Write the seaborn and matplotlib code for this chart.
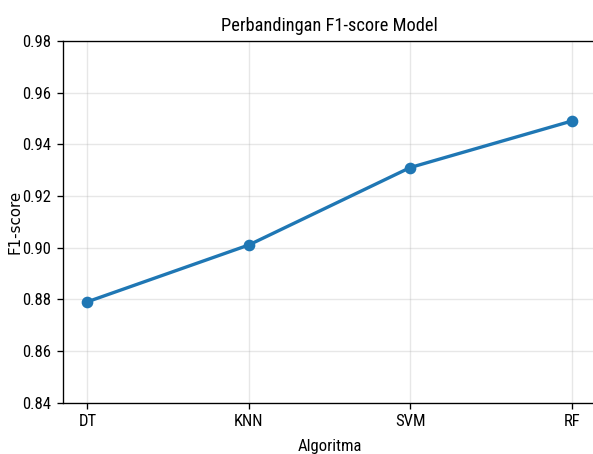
import matplotlib
matplotlib.use("Agg")
import matplotlib.pyplot as plt
import seaborn as sns
import pandas as pd

# F1-score per model
algoritma = ["DT", "KNN", "SVM", "RF"]
f1_score = [0.879, 0.901, 0.931, 0.949]
y_ticks = [0.84, 0.86, 0.88, 0.90, 0.92, 0.94, 0.96, 0.98]

df = pd.DataFrame({"Algoritma": algoritma, "F1-score": f1_score})

plt.rcParams['font.family'] = ['Roboto Condensed', 'DejaVu Sans']

fig = plt.figure(figsize=(593 / 120, 454 / 120), dpi=120)
# the original figure is cropped on the right, so the axes run past the edge
ax = fig.add_axes([0.1064, 0.1134, 0.8985, 0.7963])

sns.lineplot(
    data=df,
    x="Algoritma",
    y="F1-score",
    marker="o",
    color="#1f77b4",
    linewidth=2,
    markersize=6,
    markeredgecolor="#1f77b4",
    markeredgewidth=1,
    sort=False,
    ax=ax,
)

ax.set_title("Perbandingan F1-score Model", fontsize=11)
ax.set_xlabel("Algoritma", fontsize=10, labelpad=6)
ax.set_ylabel("F1-score", fontsize=9, family=["DejaVu Sans"])
ax.yaxis.set_label_coords(-0.077, 0.5)
ax.set_xlim(-0.15, 3.15)
ax.set_ylim(0.84, 0.98)
ax.set_yticks(y_ticks)
ax.set_yticklabels([f"{t:.2f}" for t in y_ticks])
ax.tick_params(labelsize=10)
ax.spines["right"].set_visible(False)
ax.grid(True, alpha=0.3)

fig.savefig("out.png", dpi=120)
